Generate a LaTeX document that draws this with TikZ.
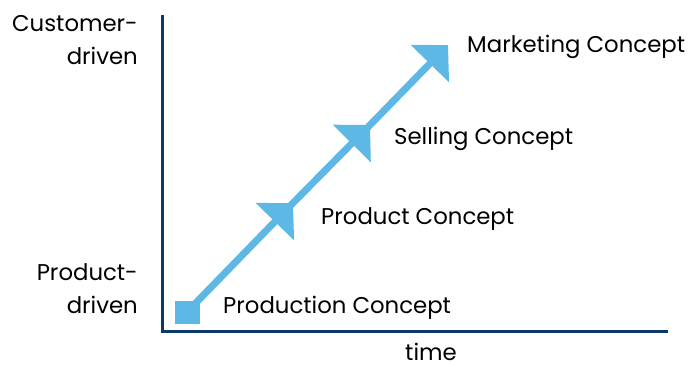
\documentclass[tikz,border=0pt]{standalone}
\usepackage{fontspec}
\setmainfont{Poppins}
\usetikzlibrary{arrows.meta}
\definecolor{axisblue}{HTML}{0B3A6A}
\definecolor{stageblue}{HTML}{5DB8E6}

\begin{document}
\begin{tikzpicture}[x=1pt,y=-1pt,
    axisline/.style={draw=axisblue,line width=3pt},
    stage/.style={draw=stageblue,line width=7pt,-{Triangle[length=26pt,width=52pt]}},
    txt/.style={font=\fontsize{22.8}{33}\selectfont,inner sep=0pt}]
  \useasboundingbox (0,0) rectangle (700,366);
  \coordinate (top) at (162,15);
  \coordinate (origin) at (162,331);
  \coordinate (right) at (668,331);
  \node[fill=stageblue,minimum width=25pt,minimum height=23pt,inner sep=0pt] (start) at (187,312) {};
  \coordinate (product) at (293,203);
  \coordinate (selling) at (370,125);
  \coordinate (marketing) at (448,45);
  \draw[axisline] (top) -- (origin) -- (right);
  \draw[stage] (start.center) -- (product);
  \draw[stage,shorten <=-14pt] (product) -- (selling);
  \draw[stage,shorten <=-14pt] (selling) -- (marketing);
  \node[txt,anchor=base west] (mk) at (467,53) {Marketing Concept};
  \node[txt,anchor=base west] (sl) at (394,145) {Selling Concept};
  \node[txt,anchor=base west] (pc) at (321,224) {Product Concept};
  \node[txt,anchor=base west] (pd) at (223,313) {Production Concept};
  \node[txt] (time) at (431,352) {time};
  \node[txt,align=right,anchor=east] (cust) at (138,40) {Customer-\\driven};
  \node[txt,align=right,anchor=east] (prod) at (138,289) {Product-\\driven};
\end{tikzpicture}
\end{document}
